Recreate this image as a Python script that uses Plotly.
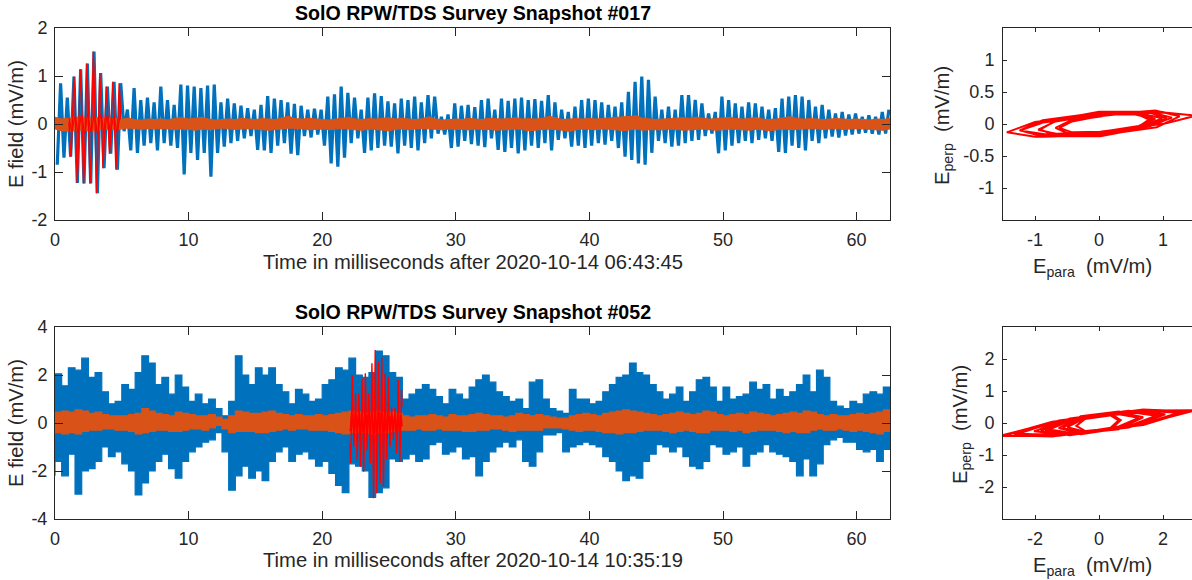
import plotly.graph_objects as go

# ---------------- data (mV/m, ms) ----------------
CYCLE_MS = 0.5          # one oscillation cycle in snapshot #017
ENV_STEP_MS = 0.5       # envelope sampling step

TOP_TITLE = "SolO RPW/TDS Survey Snapshot #017"
BOT_TITLE = "SolO RPW/TDS Survey Snapshot #052"
TOP_XLABEL = "Time in milliseconds after 2020-10-14 06:43:45"
BOT_XLABEL = "Time in milliseconds after 2020-10-14 10:35:19"

# Snapshot #017, E_para: trough and crest of each 0.5 ms cycle
TOP_PARA_MIN = [-0.85, -0.7, -0.68, -1.23, -1.24, -1.24, -1.44, -0.92, -0.62, -0.95,
                -0.15, -0.55, -0.6, -0.45, -0.4, -0.55, -0.4, -0.45, -0.5, -1.05,
                -0.6, -0.75, -0.6, -1.1, -0.6, -0.47, -0.4, -0.35, -0.3, -0.25,
                -0.54, -0.55, -0.6, -0.45, -0.4, -0.62, -0.65, -0.25, -0.28, -0.22,
                -0.45, -0.82, -0.89, -0.7, -0.4, -0.3, -0.6, -0.55, -0.5, -0.45,
                -0.47, -0.61, -0.45, -0.5, -0.55, -0.4, -0.3, -0.2, -0.22, -0.5,
                -0.47, -0.35, -0.42, -0.45, -0.48, -0.3, -0.54, -0.58, -0.5, -0.61,
                -0.55, -0.45, -0.5, -0.4, -0.55, -0.33, -0.3, -0.47, -0.45, -0.5,
                -0.45, -0.4, -0.43, -0.35, -0.5, -0.68, -0.75, -0.82, -0.85, -0.6,
                -0.35, -0.4, -0.47, -0.45, -0.4, -0.35, -0.33, -0.25, -0.2, -0.61,
                -0.55, -0.45, -0.4, -0.35, -0.4, -0.33, -0.3, -0.35, -0.58, -0.6,
                -0.45, -0.5, -0.55, -0.35, -0.4, -0.3, -0.26, -0.28, -0.24, -0.22,
                -0.2, -0.18, -0.2, -0.22, -0.2]
TOP_PARA_MAX = [0.85, 0.55, 0.99, 1.14, 1.26, 1.51, 1.06, 0.78, 0.88, 0.85,
                0.3, 0.75, 0.5, 0.55, 0.45, 0.78, 0.5, 0.4, 0.82, 0.8,
                0.78, 0.75, 0.8, 0.82, 0.45, 0.53, 0.43, 0.38, 0.33, 0.3,
                0.4, 0.58, 0.53, 0.5, 0.45, 0.42, 0.38, 0.3, 0.32, 0.3,
                0.57, 0.62, 0.78, 0.65, 0.55, 0.3, 0.55, 0.64, 0.58, 0.47,
                0.43, 0.53, 0.5, 0.57, 0.45, 0.6, 0.57, 0.15, 0.2, 0.43,
                0.38, 0.4, 0.35, 0.5, 0.53, 0.3, 0.53, 0.48, 0.53, 0.55,
                0.5, 0.52, 0.48, 0.6, 0.45, 0.3, 0.25, 0.36, 0.5, 0.53,
                0.5, 0.45, 0.4, 0.36, 0.45, 0.67, 0.88, 0.99, 0.92, 0.57,
                0.3, 0.36, 0.3, 0.6, 0.6, 0.5, 0.43, 0.22, 0.25, 0.57,
                0.5, 0.43, 0.36, 0.45, 0.43, 0.36, 0.3, 0.33, 0.53, 0.57,
                0.6, 0.57, 0.5, 0.36, 0.4, 0.3, 0.22, 0.25, 0.2, 0.22,
                0.15, 0.18, 0.15, 0.25, 0.3]
# Snapshot #017, E_perp band (upper / lower edge every 0.5 ms)
TOP_PERP_UP = [0.14, 0.1, 0.12, 0.14, 0.15, 0.13, 0.14, 0.12, 0.12, 0.11,
               0.1, 0.12, 0.09, 0.08, 0.1, 0.09, 0.1, 0.08, 0.12, 0.13,
               0.1, 0.12, 0.14, 0.1, 0.08, 0.09, 0.1, 0.09, 0.12, 0.1,
               0.09, 0.11, 0.1, 0.09, 0.13, 0.16, 0.11, 0.1, 0.12, 0.1,
               0.09, 0.08, 0.1, 0.12, 0.14, 0.1, 0.09, 0.11, 0.1, 0.12,
               0.13, 0.1, 0.12, 0.1, 0.09, 0.11, 0.15, 0.1, 0.08, 0.09,
               0.1, 0.09, 0.12, 0.1, 0.09, 0.12, 0.11, 0.1, 0.12, 0.13,
               0.1, 0.11, 0.1, 0.12, 0.16, 0.12, 0.09, 0.1, 0.11, 0.1,
               0.12, 0.1, 0.11, 0.12, 0.13, 0.14, 0.15, 0.17, 0.12, 0.1,
               0.09, 0.1, 0.11, 0.12, 0.13, 0.12, 0.14, 0.12, 0.1, 0.11,
               0.12, 0.14, 0.11, 0.1, 0.12, 0.13, 0.1, 0.09, 0.1, 0.12,
               0.15, 0.12, 0.1, 0.11, 0.1, 0.09, 0.1, 0.11, 0.1, 0.09,
               0.1, 0.09, 0.08, 0.1, 0.09, 0.12]
TOP_PERP_LO = [-0.1, -0.14, -0.15, -0.13, -0.12, -0.14, -0.12, -0.11, -0.1, -0.12,
               -0.1, -0.08, -0.1, -0.11, -0.09, -0.1, -0.09, -0.1, -0.12, -0.1,
               -0.11, -0.13, -0.1, -0.12, -0.1, -0.08, -0.1, -0.11, -0.1, -0.09,
               -0.1, -0.12, -0.13, -0.11, -0.1, -0.08, -0.09, -0.1, -0.12, -0.11,
               -0.1, -0.12, -0.1, -0.09, -0.11, -0.12, -0.13, -0.1, -0.11, -0.12,
               -0.14, -0.11, -0.1, -0.12, -0.1, -0.09, -0.1, -0.11, -0.12, -0.1,
               -0.1, -0.11, -0.12, -0.1, -0.12, -0.11, -0.13, -0.12, -0.11, -0.1,
               -0.12, -0.14, -0.12, -0.11, -0.1, -0.12, -0.13, -0.15, -0.12, -0.1,
               -0.11, -0.12, -0.1, -0.11, -0.12, -0.14, -0.12, -0.1, -0.13, -0.12,
               -0.11, -0.12, -0.1, -0.11, -0.13, -0.12, -0.11, -0.1, -0.12, -0.13,
               -0.12, -0.1, -0.11, -0.12, -0.13, -0.11, -0.12, -0.14, -0.12, -0.1,
               -0.11, -0.12, -0.1, -0.09, -0.1, -0.11, -0.1, -0.09, -0.11, -0.1,
               -0.09, -0.1, -0.11, -0.12, -0.13, -0.1]
# Snapshot #017, highlighted burst (samples)
TOP_RED_T0 = 1.05
TOP_RED_DT = 0.0605
TOP_RED_PARA = [0.05, -0.45, -0.68, -0.5, 0.02, 0.7, 0.99, 0.72,
                0.05, -0.85, -1.23, -0.88, 0.0, 0.8, 1.14, 0.82,
                0.02, -0.88, -1.24, -0.86, 0.04, 0.9, 1.26, 0.88,
                0.0, -0.9, -1.24, -0.85, 0.1, 1.05, 1.51, 1.02,
                0.05, -1.0, -1.44, -1.0, -0.05, 0.75, 1.06, 0.75,
                0.0, -0.65, -0.92, -0.62, 0.02, 0.55, 0.78, 0.55,
                0.0, -0.42, -0.62, -0.42, 0.05, 0.62, 0.88, 0.6,
                0.0, -0.68, -0.95, -0.65, 0.02, 0.6, 0.85, 0.55, 0.1]
TOP_RED_PERP = [0.12, 0.05, -0.06, -0.14, -0.12, -0.03, 0.09, 0.15,
                0.15, 0.03, -0.10, -0.18, -0.15, -0.03, 0.10, 0.18,
                0.18, 0.06, -0.10, -0.20, -0.17, -0.05, 0.12, 0.21,
                0.14, 0.02, -0.10, -0.16, -0.12, 0.01, 0.13, 0.18,
                0.16, 0.03, -0.13, -0.20, -0.16, -0.04, 0.09, 0.19,
                0.19, 0.07, -0.09, -0.19, -0.19, -0.09, 0.07, 0.18,
                0.12, 0.04, -0.06, -0.13, -0.12, -0.03, 0.08, 0.15,
                0.15, 0.04, -0.09, -0.16, -0.15, -0.04, 0.08, 0.15, 0.16]

# Snapshot #052, E_para envelope (every 0.5 ms)
BOT_PARA_UP = [2.05, 1.55, 2.3, 2.2, 2.7, 1.9, 2.1, 1.3, 0.8, 0.9,
               1.6, 1.4, 2.1, 2.8, 2.5, 1.6, 1.9, 1.2, 2.0, 1.5,
               0.9, 1.2, 0.8, 1.0, 0.6, 0.3, 0.9, 2.8, 2.0, 1.6,
               2.3, 2.0, 2.3, 1.6, 1.3, 0.8, 1.4, 1.2, 0.9, 1.0,
               1.6, 1.8, 2.3, 2.2, 2.7, 2.0, 1.9, 2.1, 3.0, 2.8,
               2.1, 1.9, 1.0, 1.2, 1.4, 1.6, 1.4, 1.1, 0.8, 1.4,
               1.2, 1.0, 1.5, 1.8, 2.0, 1.7, 1.3, 1.1, 0.9, 1.0,
               0.6, 1.7, 1.8, 1.0, 0.6, 0.5, 0.4, 1.4, 1.0, 1.0,
               0.8, 0.9, 1.3, 1.6, 1.9, 2.0, 2.5, 2.1, 2.0, 1.6,
               1.3, 1.0, 1.2, 1.5, 0.9, 1.3, 1.8, 1.9, 1.5, 0.9,
               1.5, 1.0, 1.1, 1.2, 1.7, 1.4, 1.6, 1.0, 1.4, 1.1,
               1.3, 1.6, 2.0, 1.3, 2.2, 1.9, 0.9, 0.7, 0.6, 0.9,
               0.8, 1.2, 1.3, 1.2, 1.5, 1.2]
BOT_PARA_LO = [-2.2, -1.6, -2.2, -1.3, -2.96, -2.0, -1.9, -1.6, -1.0, -1.4,
               -1.2, -1.7, -2.0, -3.0, -2.5, -2.0, -1.6, -1.3, -1.9, -2.3,
               -1.6, -1.2, -1.0, -0.8, -0.7, -0.4, -1.2, -2.8, -2.2, -1.8,
               -2.3, -2.0, -2.4, -1.6, -1.2, -1.0, -1.6, -1.3, -1.2, -1.5,
               -1.8, -1.6, -2.1, -2.6, -2.9, -1.7, -1.8, -2.0, -3.1, -2.9,
               -2.7, -1.5, -1.6, -1.5, -1.3, -1.6, -1.5, -0.9, -0.8, -1.3,
               -1.2, -1.0, -1.5, -1.4, -2.2, -1.6, -1.2, -1.0, -0.8, -1.0,
               -0.7, -1.6, -1.8, -1.2, -0.5, -0.5, -0.4, -1.2, -1.0, -0.9,
               -0.8, -0.9, -1.0, -1.4, -1.6, -2.0, -2.4, -2.2, -2.3, -1.6,
               -1.3, -0.9, -1.0, -1.2, -1.0, -1.4, -1.8, -1.9, -1.6, -0.9,
               -1.0, -1.3, -1.2, -1.0, -1.8, -1.3, -1.2, -0.9, -1.2, -1.3,
               -1.4, -1.6, -2.2, -1.5, -2.2, -1.7, -0.9, -0.7, -0.6, -0.8,
               -0.8, -1.1, -1.2, -1.1, -1.6, -1.1]
# Snapshot #052, E_perp band
BOT_PERP_UP = [0.45, 0.5, 0.45, 0.55, 0.5, 0.4, 0.45, 0.35, 0.3, 0.3,
               0.3, 0.35, 0.4, 0.6, 0.5, 0.4, 0.35, 0.3, 0.45, 0.4,
               0.35, 0.3, 0.3, 0.35, 0.25, 0.15, 0.3, 0.5, 0.45, 0.4,
               0.4, 0.45, 0.5, 0.4, 0.35, 0.3, 0.35, 0.3, 0.3, 0.35,
               0.3, 0.35, 0.4, 0.45, 0.5, 0.45, 0.4, 0.45, 0.5, 0.45,
               0.45, 0.4, 0.3, 0.25, 0.3, 0.3, 0.35, 0.3, 0.25, 0.35,
               0.3, 0.3, 0.35, 0.4, 0.35, 0.3, 0.3, 0.25, 0.3, 0.4,
               0.35, 0.3, 0.35, 0.3, 0.25, 0.2, 0.2, 0.3, 0.35, 0.4,
               0.35, 0.3, 0.4, 0.45, 0.5, 0.55, 0.5, 0.45, 0.4, 0.35,
               0.3, 0.35, 0.4, 0.45, 0.4, 0.35, 0.4, 0.5, 0.45, 0.35,
               0.3, 0.35, 0.4, 0.35, 0.45, 0.4, 0.35, 0.3, 0.35, 0.4,
               0.45, 0.4, 0.5, 0.45, 0.35, 0.3, 0.35, 0.3, 0.3, 0.35,
               0.4, 0.35, 0.4, 0.45, 0.55, 0.45]
BOT_PERP_LO = [-0.45, -0.4, -0.45, -0.4, -0.45, -0.35, -0.3, -0.3, -0.25, -0.25,
               -0.3, -0.3, -0.35, -0.45, -0.4, -0.35, -0.3, -0.3, -0.35, -0.35,
               -0.3, -0.25, -0.25, -0.3, -0.2, -0.1, -0.25, -0.4, -0.35, -0.35,
               -0.35, -0.4, -0.4, -0.35, -0.3, -0.25, -0.3, -0.25, -0.25, -0.3,
               -0.3, -0.3, -0.35, -0.4, -0.45, -0.4, -0.4, -0.4, -0.45, -0.4,
               -0.4, -0.35, -0.3, -0.3, -0.3, -0.25, -0.3, -0.3, -0.25, -0.3,
               -0.3, -0.3, -0.35, -0.35, -0.3, -0.3, -0.25, -0.25, -0.3, -0.35,
               -0.3, -0.3, -0.3, -0.3, -0.2, -0.2, -0.2, -0.25, -0.3, -0.35,
               -0.3, -0.3, -0.35, -0.4, -0.4, -0.45, -0.4, -0.4, -0.35, -0.3,
               -0.3, -0.3, -0.35, -0.4, -0.35, -0.3, -0.35, -0.4, -0.4, -0.3,
               -0.3, -0.3, -0.35, -0.3, -0.4, -0.35, -0.3, -0.3, -0.3, -0.35,
               -0.4, -0.35, -0.4, -0.4, -0.3, -0.25, -0.3, -0.3, -0.25, -0.3,
               -0.35, -0.3, -0.35, -0.4, -0.45, -0.35]
# Snapshot #052, highlighted burst (samples)
BOT_RED_T0 = 22.08
BOT_RED_DT = 0.041
BOT_RED_PARA = [-0.84, -1.68, -0.84, 1.0, 2.0, 1.0,
                -0.5, -0.99, -0.5, 0.62, 1.24, 0.62,
                -0.77, -1.54, -0.77, 0.62, 1.24, 0.62,
                -0.91, -1.82, -0.91, 0.93, 1.86, 0.93,
                -1.0, -2.03, -1.0, 1.03, 2.07, 1.03,
                -0.57, -1.13, -0.57, 0.62, 1.24, 0.62,
                -0.84, -1.68, -0.84, 1.25, 2.49, 1.25,
                -1.57, -3.14, -1.57, 1.52, 3.04, 1.52,
                -1.46, -2.93, -1.46, 1.28, 2.55, 1.28,
                -1.25, -2.51, -1.25, 1.38, 2.76, 1.38,
                -1.32, -2.65, -1.32, 1.03, 2.07, 1.03,
                -0.77, -1.54, -0.77, 0.97, 1.93, 0.97,
                -0.5, -0.99, -0.5, 0.34, 0.68, 0.34,
                -0.36, -0.71, -0.36, 0.3, 0.61, 0.3,
                -0.63, -1.26, -0.63, 0.9, 1.79, 0.9,
                -0.8, -1.6, -0.8, 0.69, 1.38, 0.69]
BOT_RED_PERP = [-0.35, -0.22, 0.13, 0.37, 0.26, -0.11,
                -0.26, -0.13, 0.12, 0.27, 0.16, -0.11,
                -0.33, -0.20, 0.13, 0.31, 0.16, -0.15,
                -0.38, -0.24, 0.14, 0.38, 0.24, -0.14,
                -0.37, -0.26, 0.11, 0.37, 0.27, -0.11,
                -0.35, -0.15, 0.21, 0.36, 0.16, -0.20,
                -0.34, -0.22, 0.12, 0.39, 0.32, -0.07,
                -0.39, -0.41, -0.01, 0.39, 0.40, 0.01,
                -0.42, -0.38, 0.04, 0.40, 0.33, -0.06,
                -0.40, -0.33, 0.08, 0.42, 0.36, -0.06,
                -0.36, -0.34, 0.02, 0.32, 0.27, -0.06,
                -0.34, -0.20, 0.14, 0.37, 0.25, -0.11,
                -0.33, -0.13, 0.19, 0.30, 0.09, -0.22,
                -0.29, -0.09, 0.19, 0.28, 0.08, -0.20,
                -0.31, -0.16, 0.15, 0.35, 0.23, -0.11,
                -0.34, -0.21, 0.14, 0.33, 0.18, -0.15]

# ---------------- styles ----------------
BLUE = "#0072BD"
ORANGE = "#D95319"
RED = "#FF0000"
AX = "#262626"
FONT = "Liberation Sans, Arial, Helvetica, sans-serif"
W, H = 1192, 580


def env_t(vals):
    return [ENV_STEP_MS * k for k in range(len(vals))]


def band(up, lo, color, xa, ya, shape="linear"):
    tu, tl = env_t(up), env_t(lo)
    return go.Scatter(x=tu + tl[::-1], y=list(up) + list(lo)[::-1], fill="toself",
                      fillcolor=color, mode="lines",
                      line=dict(color=color, width=1.2, shape=shape),
                      xaxis=xa, yaxis=ya, hoverinfo="skip", showlegend=False)


def zigzag(mins, maxs):
    xs, ys = [], []
    for i, (a, b) in enumerate(zip(mins, maxs)):
        xs += [CYCLE_MS * i + 0.17, CYCLE_MS * i + 0.42]
        ys += [a, b]
    return xs, ys


def red_t(t0, dt, n):
    return [t0 + dt * k for k in range(n)]


fig = go.Figure()

# --- top waveform ---
zx, zy = zigzag(TOP_PARA_MIN, TOP_PARA_MAX)
fig.add_trace(go.Scatter(x=zx, y=zy, mode="lines", line=dict(color=BLUE, width=3.2),
                         xaxis="x", yaxis="y", showlegend=False))
fig.add_trace(band(TOP_PERP_UP, TOP_PERP_LO, ORANGE, "x", "y"))
tr = red_t(TOP_RED_T0, TOP_RED_DT, len(TOP_RED_PARA))
fig.add_trace(go.Scatter(x=tr, y=TOP_RED_PARA, mode="lines", line=dict(color=RED, width=1.4),
                         xaxis="x", yaxis="y", showlegend=False))
fig.add_trace(go.Scatter(x=tr, y=TOP_RED_PERP, mode="lines", line=dict(color=RED, width=1.2),
                         xaxis="x", yaxis="y", showlegend=False))
# --- top hodogram ---
fig.add_trace(go.Scatter(x=TOP_RED_PARA, y=TOP_RED_PERP, mode="lines",
                         line=dict(color=RED, width=2), xaxis="x2", yaxis="y2", showlegend=False))

# --- bottom waveform ---
fig.add_trace(band(BOT_PARA_UP, BOT_PARA_LO, BLUE, "x3", "y3", shape="hv"))
fig.add_trace(band(BOT_PERP_UP, BOT_PERP_LO, ORANGE, "x3", "y3", shape="hv"))
br = red_t(BOT_RED_T0, BOT_RED_DT, len(BOT_RED_PARA))
fig.add_trace(go.Scatter(x=br, y=BOT_RED_PARA, mode="lines", line=dict(color=RED, width=1.4),
                         xaxis="x3", yaxis="y3", showlegend=False))
fig.add_trace(go.Scatter(x=br, y=BOT_RED_PERP, mode="lines", line=dict(color=RED, width=1.4),
                         xaxis="x3", yaxis="y3", showlegend=False))
# --- bottom hodogram ---
fig.add_trace(go.Scatter(x=BOT_RED_PARA, y=BOT_RED_PERP, mode="lines",
                         line=dict(color=RED, width=2), xaxis="x4", yaxis="y4", showlegend=False))


def px_x(p):
    return p / W


def px_y(p):
    return 1 - p / H


TIME_DOM = [px_x(55), px_x(890)]
HODO_DOM = [px_x(1003), 1.0]
TOP_DOM = [px_y(220), px_y(28)]
BOT_DOM = [px_y(519), px_y(327)]

base = dict(showgrid=False, zeroline=False, showline=True, linecolor=AX, linewidth=1,
            ticks="inside", tickcolor=AX, tickwidth=1, automargin=False,
            tickfont=dict(family=FONT, size=18, color=AX))


def labs(vals):
    return ["%g" % v for v in vals]


tt = list(range(0, 61, 10))
fig.update_layout(
    xaxis=dict(base, domain=TIME_DOM, anchor="y", range=[0, 62.5], tickvals=tt,
               ticktext=labs(tt), ticklen=8, mirror="ticks", ticklabelstandoff=3),
    yaxis=dict(base, domain=TOP_DOM, anchor="x", range=[-2, 2], tickvals=[-2, -1, 0, 1, 2],
               ticktext=labs([-2, -1, 0, 1, 2]), ticklen=8, mirror="ticks", ticklabelstandoff=3),
    xaxis2=dict(base, domain=HODO_DOM, anchor="y2", range=[-1.5, 1.453], tickvals=[-1, 0, 1],
                ticktext=labs([-1, 0, 1]), ticklen=4, mirror="ticks", ticklabelstandoff=3),
    yaxis2=dict(base, domain=TOP_DOM, anchor="x2", range=[-1.5, 1.5],
                tickvals=[-1, -0.5, 0, 0.5, 1], ticktext=labs([-1, -0.5, 0, 0.5, 1]),
                ticklen=4, mirror=False, ticklabelstandoff=4),
    xaxis3=dict(base, domain=TIME_DOM, anchor="y3", range=[0, 62.5], tickvals=tt,
                ticktext=labs(tt), ticklen=8, mirror="ticks", ticklabelstandoff=3),
    yaxis3=dict(base, domain=BOT_DOM, anchor="x3", range=[-4, 4], tickvals=[-4, -2, 0, 2, 4],
                ticktext=labs([-4, -2, 0, 2, 4]), ticklen=8, mirror="ticks", ticklabelstandoff=3),
    xaxis4=dict(base, domain=HODO_DOM, anchor="y4", range=[-3, 2.906], tickvals=[-2, 0, 2],
                ticktext=labs([-2, 0, 2]), ticklen=4, mirror="ticks", ticklabelstandoff=3),
    yaxis4=dict(base, domain=BOT_DOM, anchor="x4", range=[-3, 3], tickvals=[-2, -1, 0, 1, 2],
                ticktext=labs([-2, -1, 0, 1, 2]), ticklen=4, mirror=False, ticklabelstandoff=4),
    width=W, height=H, margin=dict(l=0, r=0, t=0, b=0, autoexpand=False),
    paper_bgcolor="white", plot_bgcolor="white", showlegend=False,
)

tc = (TIME_DOM[0] + TIME_DOM[1]) / 2
hc = (HODO_DOM[0] + HODO_DOM[1]) / 2
lab_font = dict(family=FONT, size=20.2, color=AX)
title_font = dict(family=FONT, size=19.6, color="black")
ann = [
    dict(text="<b>%s</b>" % TOP_TITLE, x=tc, y=px_y(13), font=title_font),
    dict(text="<b>%s</b>" % BOT_TITLE, x=tc, y=px_y(312), font=title_font),
    dict(text=TOP_XLABEL, x=tc, y=px_y(262), font=lab_font),
    dict(text=BOT_XLABEL, x=tc, y=px_y(560), font=lab_font),
    dict(text="E field (mV/m)", x=px_x(16), y=px_y(124), textangle=-90, font=lab_font),
    dict(text="E field (mV/m)", x=px_x(16), y=px_y(423), textangle=-90, font=lab_font),
    dict(text="E<sub>perp</sub>\u00a0 (mV/m)", x=px_x(943), y=px_y(126), textangle=-90, font=lab_font),
    dict(text="E<sub>perp</sub>\u00a0 (mV/m)", x=px_x(961), y=px_y(425), textangle=-90, font=lab_font),
    dict(text="E<sub>para</sub>\u00a0 (mV/m)", x=hc - 0.004, y=px_y(267), font=lab_font),
    dict(text="E<sub>para</sub>\u00a0 (mV/m)", x=hc - 0.004, y=px_y(566), font=lab_font),
]
for a in ann:
    a.update(xref="paper", yref="paper", showarrow=False, xanchor="center", yanchor="middle")
fig.update_layout(annotations=ann)

fig.write_html("out.html", config={"displayModeBar": False},
               post_script="document.body.style.margin='0';document.body.style.overflow='hidden';")
